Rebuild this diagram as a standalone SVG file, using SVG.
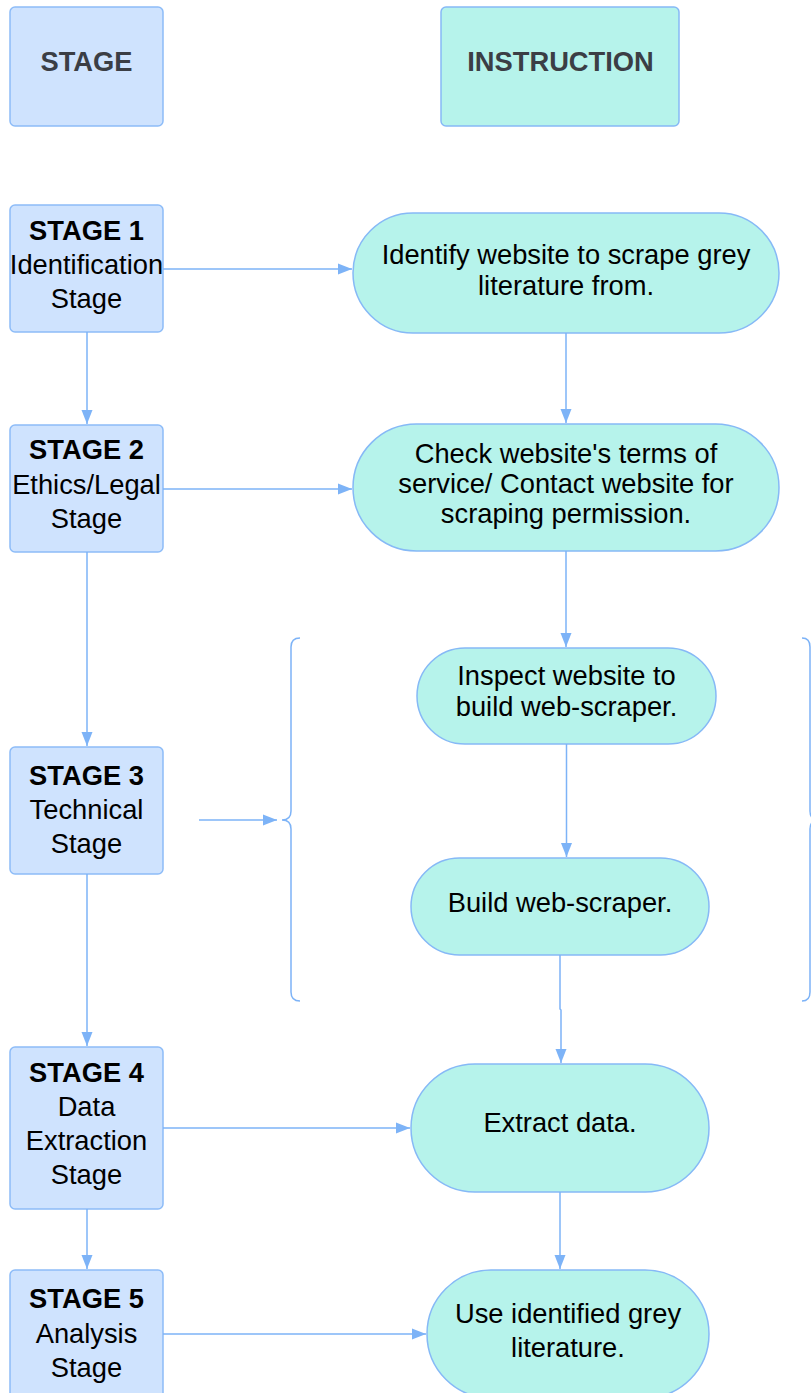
<svg xmlns="http://www.w3.org/2000/svg" width="811" height="1393" viewBox="0 0 811 1393">
  <defs>
    <marker id="arrow" markerUnits="userSpaceOnUse" markerWidth="14" markerHeight="12" refX="14" refY="6" orient="auto">
      <path d="M0,0.5 L14,6 L0,11.5 z" fill="#7db3f7"/>
    </marker>
    <style>
      .stage { fill: #cfe3fe; stroke: #8dbcf8; stroke-width: 1.5; }
      .instr { fill: #b6f3eb; stroke: #86b9f6; stroke-width: 1.5; }
      .head { font-family: "Liberation Sans", Arial, sans-serif; font-weight: bold; font-size: 27.3px; fill: #3b3e45; text-anchor: middle; }
      .txt { font-family: "Liberation Sans", Arial, sans-serif; font-size: 27.3px; fill: #000; text-anchor: middle; }
      .b { font-weight: bold; }
      .conn { fill: none; stroke: #7db3f7; stroke-width: 1.5; }
    </style>
  </defs>
  <rect width="811" height="1393" fill="#ffffff"/>

  <!-- column headers -->
  <g id="header-stage">
    <rect class="stage" x="10" y="7" width="153" height="119" rx="5"/>
    <text class="head" x="86.5" y="71">STAGE</text>
  </g>
  <g id="header-instruction">
    <rect class="instr" x="441" y="7" width="238" height="119" rx="5"/>
    <text class="head" x="560.5" y="71">INSTRUCTION</text>
  </g>

  <!-- stage column -->
  <g id="stage1">
    <rect class="stage" x="10" y="205" width="153" height="127" rx="5"/>
    <text class="txt" x="86.5" y="240"><tspan class="b">STAGE 1</tspan><tspan x="86.5" y="274">Identification</tspan><tspan x="86.5" y="308">Stage</tspan></text>
  </g>
  <g id="stage2">
    <rect class="stage" x="10" y="425" width="153" height="127" rx="5"/>
    <text class="txt" x="86.5" y="459"><tspan class="b">STAGE 2</tspan><tspan x="86.5" y="494">Ethics/Legal</tspan><tspan x="86.5" y="528">Stage</tspan></text>
  </g>
  <g id="stage3">
    <rect class="stage" x="10" y="747" width="153" height="127" rx="5"/>
    <text class="txt" x="86.5" y="785"><tspan class="b">STAGE 3</tspan><tspan x="86.5" y="819">Technical</tspan><tspan x="86.5" y="853">Stage</tspan></text>
  </g>
  <g id="stage4">
    <rect class="stage" x="10" y="1047" width="153" height="162" rx="5"/>
    <text class="txt" x="86.5" y="1082"><tspan class="b">STAGE 4</tspan><tspan x="86.5" y="1116">Data</tspan><tspan x="86.5" y="1150">Extraction</tspan><tspan x="86.5" y="1184">Stage</tspan></text>
  </g>
  <g id="stage5">
    <rect class="stage" x="10" y="1270" width="153" height="140" rx="5"/>
    <text class="txt" x="86.5" y="1308"><tspan class="b">STAGE 5</tspan><tspan x="86.5" y="1343">Analysis</tspan><tspan x="86.5" y="1377">Stage</tspan></text>
  </g>

  <!-- instruction column -->
  <g id="identify-website">
    <rect class="instr" x="353" y="213" width="426" height="120" rx="60"/>
    <text class="txt" x="566" y="264">Identify website to scrape grey<tspan x="566" y="295">literature from.</tspan></text>
  </g>
  <g id="check-terms">
    <rect class="instr" x="353" y="424" width="426" height="127" rx="63.5"/>
    <text class="txt" x="566" y="463">Check website's terms of<tspan x="566" y="493">service/ Contact website for</tspan><tspan x="566" y="523">scraping permission.</tspan></text>
  </g>
  <g id="inspect-website">
    <rect class="instr" x="417" y="648" width="299" height="96" rx="48"/>
    <text class="txt" x="566.5" y="685">Inspect website to<tspan x="566.5" y="716">build web-scraper.</tspan></text>
  </g>
  <g id="build-scraper">
    <rect class="instr" x="411" y="858" width="298" height="97" rx="48.5"/>
    <text class="txt" x="560" y="912">Build web-scraper.</text>
  </g>
  <g id="extract-data">
    <rect class="instr" x="411" y="1064" width="298" height="128" rx="64"/>
    <text class="txt" x="560" y="1132">Extract data.</text>
  </g>
  <g id="use-literature">
    <rect class="instr" x="427" y="1270" width="282" height="128" rx="64"/>
    <text class="txt" x="568" y="1323">Use identified grey<tspan x="568" y="1357">literature.</tspan></text>
  </g>

  <!-- braces grouping the technical steps -->
  <g id="technical-braces">
    <path class="conn" d="M300,638 Q291,638 291,647 L291,811 Q291,820 282,820 Q291,820 291,829 L291,992 Q291,1001 300,1001"/>
    <path class="conn" d="M802,638 Q810,638 810,647 L810,811 Q810,820 819,820 Q810,820 810,829 L810,992 Q810,1001 802,1001"/>
  </g>

  <!-- connectors -->
  <g id="connectors">
    <!-- stage chain -->
    <path class="conn" d="M87,332 L87,424" marker-end="url(#arrow)"/>
    <path class="conn" d="M87,552 L87,746" marker-end="url(#arrow)"/>
    <path class="conn" d="M87,874 L87,1046" marker-end="url(#arrow)"/>
    <path class="conn" d="M87,1209 L87,1269" marker-end="url(#arrow)"/>
    <!-- stage to instruction -->
    <path class="conn" d="M163,269 L352,269" marker-end="url(#arrow)"/>
    <path class="conn" d="M163,489 L352,489" marker-end="url(#arrow)"/>
    <path class="conn" d="M199,820 L277,820" marker-end="url(#arrow)"/>
    <path class="conn" d="M163,1128 L410,1128" marker-end="url(#arrow)"/>
    <path class="conn" d="M163,1334 L426,1334" marker-end="url(#arrow)"/>
    <!-- instruction chain -->
    <path class="conn" d="M566,333 L566,423" marker-end="url(#arrow)"/>
    <path class="conn" d="M566,551 L566,647" marker-end="url(#arrow)"/>
    <path class="conn" d="M566.5,744 L566.5,857" marker-end="url(#arrow)"/>
    <path class="conn" d="M560,955 L560,1009 L561,1010 L561,1063" marker-end="url(#arrow)"/>
    <path class="conn" d="M560,1192 L560,1269" marker-end="url(#arrow)"/>
  </g>
</svg>
